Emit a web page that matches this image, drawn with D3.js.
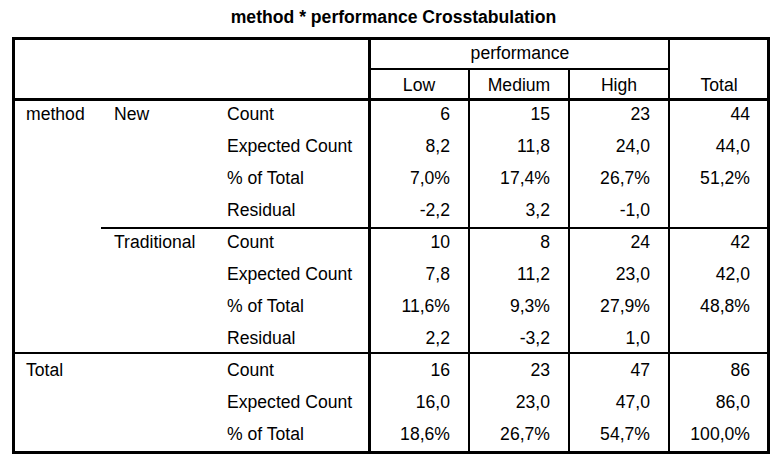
<!DOCTYPE html>
<html><head><meta charset="utf-8">
<script src="https://cdn.jsdelivr.net/npm/d3@7"></script>
<style>html,body{margin:0;padding:0;background:#fff;}svg{display:block;}</style>
</head><body>
<svg id="c" width="781" height="467"></svg>
<script>
const title = "method * performance Crosstabulation";
const colVar = "performance";
const columns = ["Low", "Medium", "High"];
const totalLabel = "Total";
const groupVar = "method";
const groups = ["New", "Traditional", "Total"];
const stats = [
  ["Count", "Expected Count", "% of Total", "Residual"],
  ["Count", "Expected Count", "% of Total", "Residual"],
  ["Count", "Expected Count", "% of Total"]
];
const newValues = [
  ["6", "15", "23", "44"],
  ["8,2", "11,8", "24,0", "44,0"],
  ["7,0%", "17,4%", "26,7%", "51,2%"],
  ["-2,2", "3,2", "-1,0", ""]
];
const tradValues = [
  ["10", "8", "24", "42"],
  ["7,8", "11,2", "23,0", "42,0"],
  ["11,6%", "9,3%", "27,9%", "48,8%"],
  ["2,2", "-3,2", "1,0", ""]
];
const totalValues = [
  ["16", "23", "47", "86"],
  ["16,0", "23,0", "47,0", "86,0"],
  ["18,6%", "26,7%", "54,7%", "100,0%"]
];

const svg = d3.select("#c");
const FONT = "'Liberation Sans', Arial, sans-serif";
const FS = 17.6;

const groupVals = [newValues, tradValues, totalValues];
const rows = [];
groups.forEach((g, gi) => {
  stats[gi].forEach((s, si) => {
    rows.push({group: si === 0 ? g : "", first: si === 0, gi, stat: s, vals: groupVals[gi][si]});
  });
});

const tLeft = 12, tRight = 770, tTop = 37, tBottom = 454;
const headerBottom = 101;
const y = d3.scaleBand().domain(d3.range(rows.length)).range([headerBottom, headerBottom + 32 * rows.length]);
const x = d3.scaleBand().domain([...columns, totalLabel]).range([369, 769]);

svg.append("text").attr("x", 393.5).attr("y", 23).attr("text-anchor", "middle")
  .attr("font-family", FONT).attr("font-size", FS).attr("font-weight", "bold").text(title);

const g = svg.append("g");
const T = (xx, yy, t, anchor) => g.append("text").attr("x", xx).attr("y", yy)
  .attr("text-anchor", anchor || "start").attr("font-family", FONT).attr("font-size", FS).attr("fill", "#000").text(t);

T((x("Low") + x("High") + x.bandwidth()) / 2 + 1, 59, colVar, "middle");
columns.forEach(c => T(x(c) + x.bandwidth() / 2, 91, c, "middle"));
T(x(totalLabel) + x.bandwidth() / 2, 91, totalLabel, "middle");

rows.forEach((r, i) => {
  const ty = y(i) + 18.5;
  if (i === 0) T(26, ty, groupVar);
  if (r.first) T(r.gi === 2 ? 26 : 114, ty, r.group);
  T(227, ty, r.stat);
  r.vals.forEach((v, j) => {
    const key = j < columns.length ? columns[j] : totalLabel;
    T(x(key) + x.bandwidth() - 19, ty, v, "end");
  });
});

const L = (x1, y1, x2, y2, w) => g.append("line").attr("x1", x1).attr("y1", y1).attr("x2", x2).attr("y2", y2)
  .attr("stroke", "#000").attr("stroke-width", w);

L(x("Medium"), 69, x("Medium"), tBottom, 2);
L(x("High"), 69, x("High"), tBottom, 2);
L(x(totalLabel), tTop, x(totalLabel), tBottom, 2);
L(370, 69, x(totalLabel), 69, 2);
L(101, y(4) - 1, tRight, y(4) - 1, 2);
L(tLeft, 353, tRight, 353, 2);
L(369.5, tTop, 369.5, tBottom, 3);
L(tLeft, 99.5, tRight, 99.5, 3);
g.append("rect").attr("x", 13.5).attr("y", 38.5).attr("width", 755).attr("height", 414)
  .attr("fill", "none").attr("stroke", "#000").attr("stroke-width", 3);
</script>
</body></html>
